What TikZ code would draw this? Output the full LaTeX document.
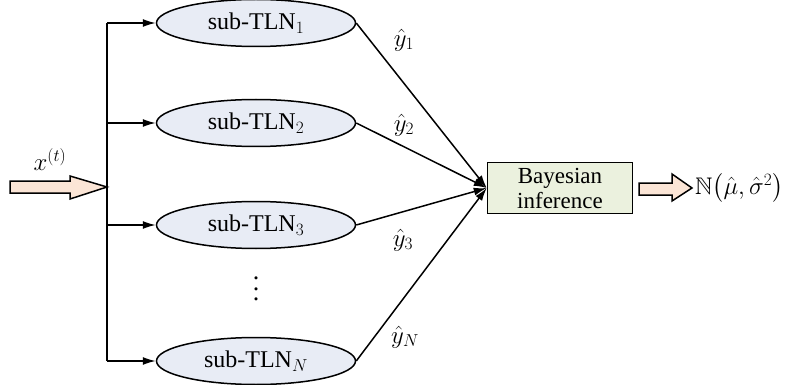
\documentclass[tikz,border=0pt]{standalone}
\usepackage{amsmath,amssymb}
\usepackage{fontspec}
\setmainfont{Liberation Serif}
\usetikzlibrary{arrows.meta,shapes.geometric}

\definecolor{peach}{HTML}{FBE5D6}
\definecolor{subfill}{HTML}{E8ECF5}
\definecolor{boxfill}{HTML}{EBF1DE}

\tikzset{
  subnet/.style={ellipse, draw, line width=1.5pt, fill=subfill, minimum width=199pt,
    minimum height=47pt, inner sep=0pt, font=\fontsize{24}{27}\selectfont},
  infbox/.style={rectangle, draw, line width=1.5pt, fill=boxfill, minimum width=145pt,
    minimum height=51pt, inner sep=0pt, align=center, font=\fontsize{23}{25}\selectfont},
  link/.style={line width=1.5pt, -{Latex[length=13pt,width=8pt]}},
  fatarrow/.style={draw, line width=1.5pt, fill=peach, line join=miter},
  lbl/.style={inner sep=0pt, font=\fontsize{24}{26}\selectfont},
}

\begin{document}
\begin{tikzpicture}[x=1pt, y=-1pt]
  \useasboundingbox (0,0) rectangle (798,385);

  % sub-networks
  \node[subnet] (s1) at (256,23)  {sub-TLN$_1$};
  \node[subnet] (s2) at (256,123) {sub-TLN$_2$};
  \node[subnet] (s3) at (256,225) {sub-TLN$_3$};
  \node[subnet] (sN) at (256,361) {sub-TLN$_N$};
  \node[inner sep=0pt, align=center, font=\fontsize{26}{10.5}\selectfont] (dots) at (256,289) {.\\.\\.};

  % fusion block
  \node[infbox] (bay) at (560,188) {Bayesian\\inference};

  % input arrow and distribution bus
  \coordinate (split) at (107,187);
  \coordinate (bt) at (107,23);
  \coordinate (bb) at (107,361);
  \draw[fatarrow] (10,181) -- (70,181) -- (70,176) -- (split) -- (70,199) -- (70,193) -- (10,193) -- cycle;
  \node[lbl] (xin) at (50,160) {$x^{(t)}$};
  \draw[line width=1.5pt] (bt) -- (bb);
  \draw[link] (bt) -- (s1.west);
  \draw[link] (107,123) -- (s2.west);
  \draw[link] (107,225) -- (s3.west);
  \draw[link] (bb) -- (sN.west);

  % outputs into the fusion block
  \draw[link] (s1.east) -- (bay.west);
  \draw[link] (s2.east) -- (bay.west);
  \draw[link] (s3.east) -- (bay.west);
  \draw[link] (sN.east) -- (bay.west);
  \node[lbl] (y1) at (404,40)  {$\hat{y}_1$};
  \node[lbl] (y2) at (404,125) {$\hat{y}_2$};
  \node[lbl] (y3) at (403,240) {$\hat{y}_3$};
  \node[lbl] (yN) at (405,337) {$\hat{y}_N$};

  % output arrow and result
  \coordinate (otip) at (692,188);
  \draw[fatarrow] (639,183) -- (672,183) -- (672,174) -- (otip) -- (672,201) -- (672,195) -- (639,195) -- cycle;
  \node[lbl, anchor=west] (res) at (695,188) {$\mathbb{N}\bigl(\hat{\mu},\hat{\sigma}^2\bigr)$};
\end{tikzpicture}
\end{document}
